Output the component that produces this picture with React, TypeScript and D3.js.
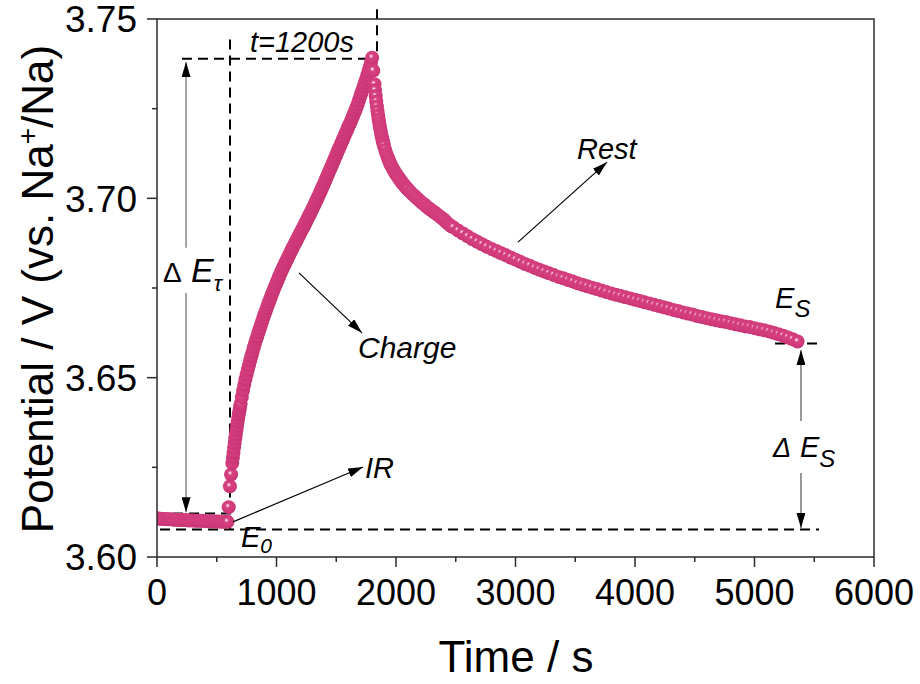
import React, { useEffect, useRef } from "react";
import * as d3 from "d3";

// open-circuit rest before the current pulse [time s, potential V]
const restBeforeCharge = [
  [0, 3.6107], [20, 3.6107], [40, 3.6106], [60, 3.6106], [80, 3.6105], [100, 3.6105],
  [120, 3.6105], [140, 3.6104], [160, 3.6104], [180, 3.6104], [200, 3.6103], [220, 3.6103],
  [240, 3.6103], [260, 3.6102], [280, 3.6102], [300, 3.6102], [320, 3.6101], [340, 3.6101],
  [360, 3.6101], [380, 3.6101], [400, 3.61], [420, 3.61], [440, 3.61], [460, 3.6099],
  [480, 3.6099], [500, 3.6099], [520, 3.6099], [540, 3.6098], [560, 3.6098], [580, 3.6098],
];

// galvanostatic charge, 1200 s
const chargeData = [
  [590, 3.6098], [600, 3.6139], [610, 3.6197], [620, 3.623], [630, 3.6262], [635, 3.6277],
  [640, 3.6291], [645, 3.6305], [650, 3.6318], [655, 3.6331], [660, 3.6343], [665, 3.6355],
  [670, 3.6366], [675, 3.6377], [680, 3.6388], [685, 3.6398], [690, 3.6408], [695, 3.6418],
  [700, 3.6427], [710, 3.6446], [720, 3.6464], [730, 3.648], [740, 3.6495], [750, 3.6509],
  [760, 3.6522], [770, 3.6535], [780, 3.6548], [790, 3.656], [800, 3.6572], [810, 3.6584],
  [820, 3.6595], [830, 3.6606], [840, 3.6616], [850, 3.6627], [860, 3.6637], [870, 3.6647],
  [880, 3.6657], [890, 3.6667], [900, 3.6677], [910, 3.6686], [920, 3.6695], [930, 3.6704],
  [940, 3.6713], [950, 3.6722], [960, 3.6731], [970, 3.674], [980, 3.6748], [990, 3.6756],
  [1000, 3.6764], [1010, 3.6772], [1020, 3.678], [1030, 3.6788], [1040, 3.6796], [1050, 3.6803],
  [1060, 3.681], [1070, 3.6817], [1080, 3.6824], [1090, 3.6831], [1100, 3.6838], [1110, 3.6845],
  [1120, 3.6852], [1130, 3.6858], [1140, 3.6865], [1150, 3.6871], [1160, 3.6878], [1170, 3.6884],
  [1180, 3.6891], [1190, 3.6897], [1200, 3.6904], [1210, 3.691], [1220, 3.6917], [1230, 3.6923],
  [1240, 3.693], [1250, 3.6936], [1260, 3.6943], [1270, 3.695], [1280, 3.6956], [1290, 3.6963],
  [1300, 3.697], [1310, 3.6977], [1320, 3.6984], [1330, 3.6991], [1340, 3.6998], [1350, 3.7005],
  [1360, 3.7013], [1370, 3.702], [1380, 3.7028], [1390, 3.7035], [1400, 3.7043], [1410, 3.7051],
  [1420, 3.7058], [1430, 3.7066], [1440, 3.7074], [1450, 3.7082], [1460, 3.7089], [1470, 3.7097],
  [1480, 3.7105], [1490, 3.7113], [1500, 3.7121], [1510, 3.7129], [1520, 3.7137], [1530, 3.7144],
  [1540, 3.7152], [1550, 3.716], [1560, 3.7167], [1570, 3.7175], [1580, 3.7183], [1590, 3.719],
  [1600, 3.7198], [1610, 3.7206], [1620, 3.7213], [1630, 3.7221], [1640, 3.7229], [1650, 3.7237],
  [1660, 3.7245], [1670, 3.7254], [1680, 3.7263], [1690, 3.7273], [1700, 3.7283], [1710, 3.7293],
  [1720, 3.7303], [1730, 3.7313], [1740, 3.7323], [1750, 3.7333], [1760, 3.7344], [1770, 3.7355],
  [1780, 3.7366], [1790, 3.7378], [1800, 3.7392],
];

// relaxation after the pulse
const restAfterCharge = [
  [1810, 3.7356], [1820, 3.7318], [1825, 3.7301], [1830, 3.7285], [1835, 3.727], [1840, 3.7256],
  [1845, 3.7243], [1850, 3.7231], [1855, 3.722], [1860, 3.721], [1865, 3.72], [1870, 3.7191],
  [1875, 3.7182], [1880, 3.7174], [1885, 3.7166], [1890, 3.7159], [1895, 3.7152], [1900, 3.7146],
  [1910, 3.7135], [1920, 3.7124], [1930, 3.7115], [1940, 3.7106], [1950, 3.7098], [1960, 3.7091],
  [1970, 3.7085], [1980, 3.7079], [1990, 3.7073], [2000, 3.7068], [2010, 3.7063], [2020, 3.7058],
  [2030, 3.7053], [2040, 3.7049], [2050, 3.7044], [2060, 3.704], [2070, 3.7036], [2080, 3.7032],
  [2090, 3.7028], [2100, 3.7025], [2120, 3.7018], [2140, 3.7011], [2160, 3.7005], [2180, 3.6999],
  [2200, 3.6993], [2220, 3.6987], [2240, 3.6982], [2260, 3.6976], [2280, 3.6971], [2300, 3.6966],
  [2320, 3.6961], [2340, 3.6956], [2360, 3.6951], [2380, 3.6946], [2400, 3.6941], [2420, 3.6934],
  [2440, 3.6928], [2460, 3.6923], [2480, 3.6919], [2520, 3.691], [2560, 3.6902], [2600, 3.6894],
  [2640, 3.6886], [2680, 3.6879], [2720, 3.6872], [2760, 3.6865], [2800, 3.6859], [2840, 3.6853],
  [2880, 3.6847], [2920, 3.6841], [2960, 3.6835], [3000, 3.6829], [3040, 3.6823], [3080, 3.6817],
  [3120, 3.6812], [3160, 3.6806], [3200, 3.6801], [3240, 3.6796], [3280, 3.6791], [3320, 3.6786],
  [3360, 3.6781], [3400, 3.6777], [3440, 3.6772], [3480, 3.6768], [3520, 3.6763], [3560, 3.6759],
  [3600, 3.6755], [3640, 3.6751], [3680, 3.6747], [3720, 3.6743], [3760, 3.6739], [3800, 3.6735],
  [3840, 3.6731], [3880, 3.6728], [3920, 3.6724], [3960, 3.6721], [4000, 3.6717], [4040, 3.6714],
  [4080, 3.671], [4120, 3.6707], [4160, 3.6703], [4200, 3.67], [4240, 3.6696], [4280, 3.6693],
  [4320, 3.6689], [4360, 3.6686], [4400, 3.6682], [4440, 3.6679], [4480, 3.6676], [4520, 3.6672],
  [4560, 3.6669], [4600, 3.6666], [4640, 3.6663], [4680, 3.666], [4720, 3.6657], [4760, 3.6655],
  [4800, 3.6652], [4840, 3.6649], [4880, 3.6646], [4920, 3.6643], [4960, 3.6641], [5000, 3.6638],
  [5040, 3.6635], [5080, 3.6632], [5120, 3.6629], [5160, 3.6625], [5200, 3.6621], [5240, 3.6617],
  [5280, 3.6612], [5320, 3.6607], [5360, 3.6601],
];

const xTicks = [0, 1000, 2000, 3000, 4000, 5000, 6000];
const xMinorTicks = [500, 1500, 2500, 3500, 4500, 5500];
const yTicks = [3.6, 3.65, 3.7, 3.75];
const yMinorTicks = [3.625, 3.675, 3.725];

// annotation anchors, in data units
const peakV = 3.7389;
const irV = 3.6121;
const e0V = 3.6077;
const esV = 3.6595;
const pulseStartT = 611;
const pulseEndT = 1841;

const GITT = () => {
  const svgRef = useRef(null);

  useEffect(() => {
    const width = 920;
    const height = 684;
    const left = 157;
    const right = 874;
    const top = 19;
    const bottom = 557;
    const font = "'Liberation Sans', Arial, sans-serif";

    const x = d3.scaleLinear().domain([0, 6000]).range([left, right]);
    const y = d3.scaleLinear().domain([3.6, 3.75]).range([bottom, top]);

    const svg = d3.select(svgRef.current).attr("width", width).attr("height", height);
    svg.selectAll("*").remove();
    svg.append("rect").attr("width", width).attr("height", height).attr("fill", "#fff");

    const defs = svg.append("defs");
    const grad = defs
      .append("radialGradient")
      .attr("id", "ball")
      .attr("cx", 0.45)
      .attr("cy", 0.42)
      .attr("r", 0.55)
      .attr("fx", 0.42)
      .attr("fy", 0.38);
    [
      [0, "#ffffff"],
      [0.1, "#f3c4d8"],
      [0.3, "#d6427f"],
      [0.75, "#d23a7b"],
      [1, "#c63373"],
    ].forEach(([o, c]) => grad.append("stop").attr("offset", o).attr("stop-color", c));

    defs
      .append("clipPath")
      .attr("id", "plotClip")
      .append("rect")
      .attr("x", left)
      .attr("y", top)
      .attr("width", right - left)
      .attr("height", bottom - top);

    defs
      .append("marker")
      .attr("id", "head")
      .attr("viewBox", "0 0 15 9")
      .attr("refX", 15)
      .attr("refY", 4.5)
      .attr("markerWidth", 15)
      .attr("markerHeight", 9)
      .attr("markerUnits", "userSpaceOnUse")
      .attr("orient", "auto")
      .append("path")
      .attr("d", "M0,0L15,4.5L0,9Z")
      .attr("fill", "#000");

    // dashed guide lines
    const dashed = (x1, y1, x2, y2) =>
      svg
        .append("line")
        .attr("x1", x(x1))
        .attr("y1", y(y1))
        .attr("x2", x(x2))
        .attr("y2", y(y2))
        .attr("stroke", "#000")
        .attr("stroke-width", 2)
        .attr("stroke-dasharray", "10,6");

    dashed(209, peakV, pulseEndT, peakV);
    dashed(pulseStartT, 3.7443, pulseStartT, e0V);
    dashed(pulseEndT, 3.7527, pulseEndT, peakV);
    dashed(0, irV, 628, irV);
    dashed(25, e0V, 5540, e0V);
    dashed(5172, esV, 5548, esV);

    // data markers
    const allPoints = [...restBeforeCharge, ...chargeData, ...restAfterCharge];
    svg
      .append("g")
      .attr("clip-path", "url(#plotClip)")
      .selectAll("circle")
      .data(allPoints)
      .join("circle")
      .attr("cx", (d) => x(d[0]))
      .attr("cy", (d) => y(d[1]))
      .attr("r", 7)
      .attr("fill", "url(#ball)");

    // arrows
    const arrow = (t1, v1, t2, v2, color) =>
      svg
        .append("line")
        .attr("x1", x(t1))
        .attr("y1", y(v1))
        .attr("x2", x(t2))
        .attr("y2", y(v2))
        .attr("stroke", color)
        .attr("stroke-width", 1.2)
        .attr("marker-end", "url(#head)");

    arrow(243, 3.6862, 243, 3.738, "#666");
    arrow(243, 3.6736, 243, 3.6125, "#666");
    arrow(5389, 3.6379, 5389, 3.6577, "#555");
    arrow(5389, 3.6234, 5389, 3.6081, "#555");
    arrow(636, 3.6098, 1724, 3.6251, "#000");
    arrow(1188, 3.6792, 1715, 3.6625, "#000");
    arrow(3021, 3.6878, 3766, 3.7101, "#000");

    // frame and ticks
    svg
      .append("rect")
      .attr("x", left)
      .attr("y", top)
      .attr("width", right - left)
      .attr("height", bottom - top)
      .attr("fill", "none")
      .attr("stroke", "#2b2b2b")
      .attr("stroke-width", 1.5);

    const tickG = svg.append("g").attr("stroke", "#2b2b2b").attr("stroke-width", 1.5);
    xTicks.forEach((t) =>
      tickG.append("line").attr("x1", x(t)).attr("x2", x(t)).attr("y1", bottom).attr("y2", bottom + 10)
    );
    xMinorTicks.forEach((t) =>
      tickG.append("line").attr("x1", x(t)).attr("x2", x(t)).attr("y1", bottom).attr("y2", bottom + 5)
    );
    yTicks.forEach((v) =>
      tickG.append("line").attr("x1", left - 10).attr("x2", left).attr("y1", y(v)).attr("y2", y(v))
    );
    yMinorTicks.forEach((v) =>
      tickG.append("line").attr("x1", left - 5).attr("x2", left).attr("y1", y(v)).attr("y2", y(v))
    );

    svg
      .append("g")
      .selectAll("text")
      .data(xTicks)
      .join("text")
      .attr("x", (d) => x(d))
      .attr("y", 605)
      .attr("text-anchor", "middle")
      .style("font-family", font)
      .style("font-size", "36px")
      .text((d) => d);

    svg
      .append("g")
      .selectAll("text")
      .data(yTicks)
      .join("text")
      .attr("x", 137)
      .attr("y", (d) => y(d))
      .attr("dy", "0.36em")
      .attr("text-anchor", "end")
      .style("font-family", font)
      .style("font-size", "37px")
      .text((d) => d.toFixed(2));

    // axis titles
    svg
      .append("text")
      .attr("x", 516)
      .attr("y", 672)
      .attr("text-anchor", "middle")
      .style("font-family", font)
      .style("font-size", "44px")
      .text("Time / s");

    const yTitle = svg
      .append("text")
      .attr("transform", "translate(53,289) rotate(-90)")
      .attr("text-anchor", "middle")
      .style("font-family", font)
      .style("font-size", "44px");
    yTitle.append("tspan").text("Potential / V (vs. Na");
    yTitle.append("tspan").attr("dy", -16).style("font-size", "28px").text("+");
    yTitle.append("tspan").attr("dy", 16).text("/Na)");

    // annotation labels
    const label = (t, v, size) =>
      svg
        .append("text")
        .attr("x", x(t))
        .attr("y", y(v))
        .style("font-family", font)
        .style("font-style", "italic")
        .style("font-size", `${size}px`);

    label(778, 3.7408, 29).text("t=1200s");
    label(1741, 3.622, 29).text("IR");
    label(1682, 3.6555, 30).text("Charge");
    label(3515, 3.711, 29).text("Rest");

    const e0 = label(703, 3.6028, 29);
    e0.append("tspan").text("E");
    e0.append("tspan").attr("dy", 6).style("font-size", "21px").text("0");

    const es = label(5172, 3.6694, 29);
    es.append("tspan").text("E");
    es.append("tspan").attr("dy", 9).style("font-size", "24px").text("S");

    const des = label(5155, 3.6279, 29);
    des.append("tspan").style("font-size", "27px").text("Δ");
    des.append("tspan").attr("x", x(5155) + 27).text("E");
    des.append("tspan").attr("dy", 10).style("font-size", "24px").text("S");

    const det = label(50, 3.6767, 34).style("font-style", "normal");
    det.append("tspan").style("font-size", "28px").text("Δ");
    det.append("tspan").attr("x", x(50) + 28).style("font-style", "italic").text("E");
    det
      .append("tspan")
      .attr("dy", 9)
      .style("font-style", "italic")
      .style("font-size", "22px")
      .text("τ");
  }, []);

  return <svg ref={svgRef} style={{ position: "absolute", left: 0, top: 0 }}></svg>;
};

export default function App() {
  return <GITT />;
}
